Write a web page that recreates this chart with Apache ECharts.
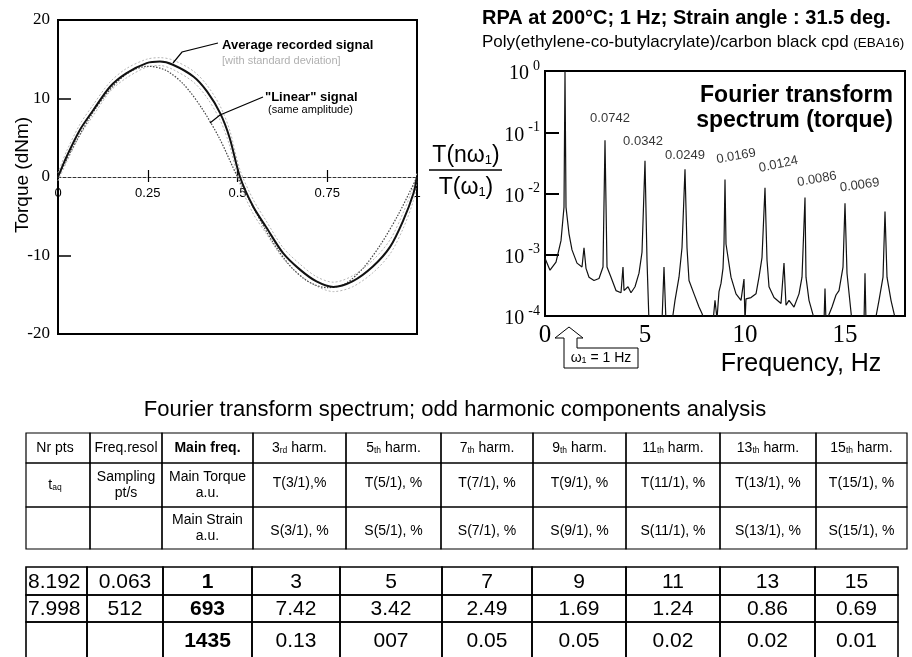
<!DOCTYPE html>
<html><head><meta charset="utf-8">
<script src="https://cdn.jsdelivr.net/npm/echarts@6/dist/echarts.min.js"></script>
<style>html,body{margin:0;padding:0;background:#fff}#c{width:912px;height:657px}</style>
</head><body><div id="c"></div>
<script>
// ---------------- DATA ----------------
// Left: torque vs. time fraction of one period
const phase      = [0,0.024,0.061,0.098,0.145,0.19,0.247,0.284,0.32,0.377,0.415,0.452,0.478,0.507,0.544,0.58,0.627,0.674,0.72,0.767,0.82,0.877,0.925,0.962,0.99,1];
const avgTorque  = [0,2.6,6.0,8.5,11.5,13.2,14.5,14.7,14.3,12.8,10.9,8.1,5.0,0,-3.8,-6.4,-9.7,-11.8,-13.3,-14.0,-13.3,-11.4,-8.9,-5.5,-2.1,0];
const avgUpper   = [0.5,3.3,6.7,9.2,12.1,13.8,15.0,15.2,14.9,13.5,11.7,9.0,6.0,0.9,-2.9,-5.6,-9.0,-11.1,-12.7,-13.4,-12.6,-10.6,-8.0,-4.5,-1.2,0.6];
const avgLower   = [-0.5,1.9,5.3,7.8,10.9,12.6,14.0,14.2,13.7,12.1,10.1,7.2,4.0,-0.9,-4.7,-7.2,-10.4,-12.5,-13.9,-14.6,-14.0,-12.2,-9.8,-6.5,-3.0,-0.6];
const linPhase   = [0,0.05,0.1,0.15,0.2,0.25,0.3,0.35,0.4,0.45,0.5,0.55,0.6,0.65,0.7,0.75,0.8,0.85,0.9,0.95,1];
const linTorque  = [0,4.5,8.4,11.4,13.4,14.1,13.6,11.8,8.8,4.9,0,-4.4,-8.4,-11.5,-13.4,-14.1,-13.6,-11.6,-8.5,-4.6,0];
const leftYTicks = [-20,-10,0,10,20];
const leftXTicks = [0,0.25,0.5,0.75,1];

// Right: FT spectrum  [frequency Hz, T(nw1)/T(w1)]
const specPoints = [[0,0.00088],[0.25,0.00056],[0.55,0.00076],[0.8,0.0017],[0.95,0.006],[1,1],[1.05,0.006],[1.2,0.0022],[1.35,0.0012],[1.6,0.00073],[1.85,0.00063],[1.95,0.0013],[2.05,0.0006],[2.2,0.00043],[2.45,0.00038],[2.7,0.00041],[2.9,0.00063],[3,0.0742],[3.1,0.00063],[3.3,0.00043],[3.55,0.00026],[3.8,0.00024],[3.9,0.00063],[3.95,0.00026],[4.15,0.0003],[4.3,0.00024],[4.5,0.0003],[4.7,0.0005],[4.85,0.0011],[5,0.0342],[5.1,0.00082],[5.2,0.00008],[5.85,0.00008],[5.95,0.00063],[6.05,0.00008],[6.35,0.00008],[6.5,0.00018],[6.7,0.00043],[6.85,0.0013],[7,0.0249],[7.1,0.0013],[7.2,0.00038],[7.45,0.00023],[7.7,0.00014],[7.85,0.00011],[8.0,0.00008],[8.4,0.00008],[8.5,0.00018],[8.6,0.00009],[8.7,0.00025],[8.8,0.00034],[8.9,0.0006],[8.95,0.0015],[9,0.0169],[9.05,0.0015],[9.3,0.00043],[9.55,0.00023],[9.8,0.00018],[9.95,0.0004],[10.0,0.00008],[10.05,0.00019],[10.3,0.0002],[10.55,0.00023],[10.7,0.00043],[10.85,0.0009],[11,0.0124],[11.1,0.00082],[11.2,0.0003],[11.45,0.0002],[11.8,0.00016],[11.95,0.00073],[12.05,0.00015],[12.2,0.00018],[12.45,0.00014],[12.7,0.00023],[12.85,0.00043],[13,0.0086],[13.05,0.00043],[13.2,0.00018],[13.5,0.00008],[13.95,0.00008],[14.0,0.00028],[14.05,0.00008],[14.35,0.00014],[14.55,0.00022],[14.7,0.00026],[14.9,0.00063],[15,0.0069],[15.1,0.0005],[15.2,0.00024],[15.35,0.00008],[15.95,0.00008],[16,0.0005],[16.05,0.00008],[16.5,0.00008],[16.7,0.00018],[16.9,0.00043],[17,0.0051],[17.1,0.00043],[17.3,0.00018],[17.55,0.00008],[18,0.00008]];
const harmFreq   = [3,5,7,9,11,13,15];
const harmAmp    = [0.0742,0.0342,0.0249,0.0169,0.0124,0.0086,0.0069];
const rightXTicks = [0,5,10,15];

// Table texts
const headRow1 = ['Nr pts','Freq.resol','Main freq.','3{s|rd} harm.','5{s|th} harm.','7{s|th} harm.','9{s|th} harm.','11{s|th} harm.','13{s|th} harm.','15{s|th} harm.'];
const headRow2 = ['t{s|aq}','Sampling\npt/s','Main Torque\na.u.','T(3/1),%','T(5/1), %','T(7/1), %','T(9/1), %','T(11/1), %','T(13/1), %','T(15/1), %'];
const headRow3 = ['','','Main Strain\na.u.','S(3/1), %','S(5/1), %','S(7/1), %','S(9/1), %','S(11/1), %','S(13/1), %','S(15/1), %'];
const valRow1  = ['8.192','0.063','1','3','5','7','9','11','13','15'];
const valRow2  = ['7.998','512','693','7.42','3.42','2.49','1.69','1.24','0.86','0.69'];
const valRow3  = ['','','1435','0.13','007','0.05','0.05','0.02','0.02','0.01'];

// ---------------- LAYOUT / STYLE ----------------
const SANS = 'Liberation Sans, Arial, sans-serif';
const SERIF = 'Liberation Serif, Times New Roman, serif';
const t1Cols = [26,90,162,253,346,441,533,626,720,816,907];
const t1Rows = [433,463,507,549];
const t2Cols = [26,87,163,252,340,442,532,626,720,815,898];
const t2Rows = [567,595,622,662];
const LEFT_GRID = {left:58, top:20, width:359, height:314};
const ZERO_OFFSET = -LEFT_GRID.height/2;   // x axis drawn through torque = 0

const chart = echarts.init(document.getElementById('c'), null, {renderer:'canvas'});

function txt(x, y, text, o) {
  o = o || {};
  return {
    type:'text', x:x, y:y, rotation:o.rot||0, z:10,
    style:{
      text:text, fill:o.color||'#000',
      fontSize:o.size||12, fontFamily:o.family||SANS, fontWeight:o.weight||'normal',
      align:o.align||'center', verticalAlign:o.va||'middle',
      textAlign:o.align||'center', textVerticalAlign:o.va||'middle',
      lineHeight:o.lh, rich:o.rich
    }
  };
}
function seg(points, w, color) {
  return {type:'polyline', z:10, shape:{points:points}, style:{stroke:color||'#000', lineWidth:w||1, fill:null}};
}

const graphics = [];
// left annotations
graphics.push(seg([[173,63],[182,52],[218,43]],1.2));
graphics.push(txt(222,45,'Average recorded signal',{align:'left',size:13,weight:'bold'}));
graphics.push(txt(222,61,'[with standard deviation]',{align:'left',size:11,color:'#b0b0b0'}));
graphics.push(seg([[210,123],[220,115],[263,97]],1.2));
graphics.push(txt(265,97,'"Linear" signal',{align:'left',size:13,weight:'bold'}));
graphics.push(txt(268,110,'(same amplitude)',{align:'left',size:11}));
graphics.push(txt(23,175,'Torque (dNm)',{size:19,rot:Math.PI/2}));

// right titles
graphics.push(txt(482,18,'RPA at 200°C; 1 Hz; Strain angle : 31.5 deg.',{align:'left',size:20,weight:'bold'}));
graphics.push(txt(482,42,'Poly(ethylene-co-butylacrylate)/carbon black cpd {sm|(EBA16)}',{align:'left',size:17,
  rich:{sm:{fontSize:13.5,fontFamily:SANS,padding:[2,0,0,0]}}}));
graphics.push(txt(893,96,'Fourier transform',{align:'right',size:23,weight:'bold'}));
graphics.push(txt(893,121,'spectrum (torque)',{align:'right',size:23,weight:'bold'}));
// fraction y label
const subRich = {s:{fontSize:13,fontFamily:SANS,padding:[9,0,0,0]}};
graphics.push(txt(466,156,'T(nω{s|1})',{size:23,rich:subRich}));
graphics.push(seg([[429,170],[502,170]],1.6));
graphics.push(txt(466,188,'T(ω{s|1})',{size:23,rich:subRich}));
graphics.push(txt(801,364,'Frequency, Hz',{size:25}));
// callout
graphics.push({type:'polygon', z:10, shape:{points:[[564,368],[564,338],[555,338],[569,327],[583,338],[577,338],[577,348],[638,348],[638,368]]},
  style:{fill:'#fff',stroke:'#000',lineWidth:1}});
graphics.push(txt(601,358,'ω{s|1} = 1 Hz',{size:14,rich:{s:{fontSize:9,fontFamily:SANS,padding:[5,0,0,0]}}}));

// table title
graphics.push(txt(455,410,'Fourier transform spectrum; odd harmonic components analysis',{size:22}));

function drawTable(cols, rows, lw) {
  for (let r=0;r<rows.length-1;r++) for (let c=0;c<cols.length-1;c++) {
    graphics.push({type:'rect', z:5, shape:{x:cols[c],y:rows[r],width:cols[c+1]-cols[c],height:rows[r+1]-rows[r]},
      style:{fill:null,stroke:'#000',lineWidth:lw}});
  }
}
drawTable(t1Cols,t1Rows,1.2);
drawTable(t2Cols,t2Rows,1.6);
const headRows = [headRow1,headRow2,headRow3];
headRows.forEach((row,r)=>{
  row.forEach((t,c)=>{
    if (!t) return;
    const cx = (t1Cols[c]+t1Cols[c+1])/2 + (c===0?-3:0);
    let cy = (t1Rows[r]+t1Rows[r+1])/2;
    if (r===2 && c>2) cy += 3;
    if (r===1 && c>2) cy -= 2;
    graphics.push(txt(cx,cy,t,{size:14,weight:(r===0&&c===2)?'bold':'normal',lh:16,
      rich:{s:{fontSize:8.5,fontFamily:SANS,padding:[5,0,0,0],fontWeight:'normal'}}}));
  });
});
const valRows = [valRow1,valRow2,valRow3];
valRows.forEach((row,r)=>{
  row.forEach((t,c)=>{
    if (!t) return;
    const cy = r===2 ? 641 : (t2Rows[r]+t2Rows[r+1])/2 + 1;
    if (c===0) graphics.push(txt(t2Cols[0]+2,cy,t,{size:21,align:'left'}));
    else graphics.push(txt((t2Cols[c]+t2Cols[c+1])/2,cy,t,{size:21,weight:c===2?'bold':'normal'}));
  });
});

// harmonic label placement (offset from peak, rotation)
const harmLabelOffsets = [[5,-22,0],[-2,-19,0],[0,-14,0],[15,-21,10],[18,-20,12],[15,-16,10],[17,-16,8]];

const zip = (a,b)=>a.map((v,i)=>[v,b[i]]);

const option = {
  animation:false,
  backgroundColor:'#fff',
  grid:[
    Object.assign({show:true, borderColor:'#000', borderWidth:2, backgroundColor:'transparent', containLabel:false, outerBoundsMode:'none'}, LEFT_GRID),
    {left:545, top:71, width:360, height:245, show:true, borderColor:'#000', borderWidth:2, backgroundColor:'transparent', containLabel:false, outerBoundsMode:'none'}
  ],
  xAxis:[
    {type:'value', gridIndex:0, min:0, max:1, interval:0.25, position:'bottom', offset:ZERO_OFFSET,
     axisLine:{show:true, onZero:false, lineStyle:{color:'#333', width:1, type:[3,2]}},
     axisTick:{show:true, length:5, customValues:[0.25,0.5,0.75], lineStyle:{color:'#000',width:1.2}},
     axisLabel:{show:true, margin:10, fontSize:13, fontFamily:SANS, color:'#000', customValues:leftXTicks,
       formatter:v=>String(v)},
     splitLine:{show:false}},
    {type:'value', gridIndex:0, min:0, max:1, interval:0.25, position:'top', offset:ZERO_OFFSET,
     axisLine:{show:false, onZero:false},
     axisTick:{show:true, length:7, customValues:[0.25,0.5,0.75], lineStyle:{color:'#000',width:1.2}},
     axisLabel:{show:false}, splitLine:{show:false}},
    {type:'value', gridIndex:1, min:0, max:18, interval:5, position:'bottom',
     axisLine:{show:false}, axisTick:{show:false},
     axisLabel:{show:true, margin:7, fontSize:25, fontFamily:SERIF, color:'#000', customValues:rightXTicks,
       formatter:v=>(v%5===0?String(v):'')},
     splitLine:{show:false}}
  ],
  yAxis:[
    {type:'value', gridIndex:0, min:-20, max:20, interval:10,
     axisLine:{show:false}, axisTick:{show:true, inside:true, length:13, customValues:[-10,10], lineStyle:{color:'#000',width:1.5}},
     axisLabel:{margin:8, fontSize:17, fontFamily:SERIF, color:'#000', customValues:leftYTicks},
     splitLine:{show:false}},
    {type:'log', gridIndex:1, min:0.0001, max:1, logBase:10,
     axisLine:{show:false}, axisTick:{show:true, inside:true, length:14, customValues:[0.1,0.01,0.001], lineStyle:{color:'#000',width:2}},
     axisLabel:{margin:5, color:'#000',
       formatter:v=>{const e=Math.round(Math.log10(v)); return '{b|10}{e|'+e+'}';},
       rich:{b:{fontSize:20,fontFamily:SERIF,color:'#000',padding:[6,0,0,0]},
             e:{fontSize:14,fontFamily:SERIF,color:'#000',padding:[0,0,10,4]}}},
     splitLine:{show:false}}
  ],
  series:[
    {type:'line', xAxisIndex:0, yAxisIndex:0, data:zip(phase,avgUpper), smooth:0.3, showSymbol:false,
     lineStyle:{color:'#b5b5b5', width:1, type:[2,2]}, z:2},
    {type:'line', xAxisIndex:0, yAxisIndex:0, data:zip(phase,avgLower), smooth:0.3, showSymbol:false,
     lineStyle:{color:'#b5b5b5', width:1, type:[2,2]}, z:2},
    {type:'line', xAxisIndex:0, yAxisIndex:0, data:zip(linPhase,linTorque), smooth:0.3, showSymbol:false,
     lineStyle:{color:'#444', width:1.2, type:[1.5,1.5]}, z:3},
    {type:'line', xAxisIndex:0, yAxisIndex:0, data:zip(phase,avgTorque), smooth:0.3, showSymbol:false,
     lineStyle:{color:'#111', width:2}, z:4},
    {type:'line', xAxisIndex:2, yAxisIndex:1, data:specPoints, showSymbol:false, clip:true,
     lineStyle:{color:'#111', width:1.2}, z:4},
    {type:'scatter', xAxisIndex:2, yAxisIndex:1, symbolSize:1, itemStyle:{color:'transparent'}, z:5,
     data:harmFreq.map((f,i)=>({value:[f,harmAmp[i]],
        label:{show:true, position:'inside', offset:[harmLabelOffsets[i][0],harmLabelOffsets[i][1]], rotate:harmLabelOffsets[i][2],
          formatter:String(harmAmp[i]), fontSize:13, fontFamily:SANS, color:'#000'}})),
     label:{show:true}}
  ],
  graphic:graphics
};
chart.setOption(option);
</script>
</body></html>
